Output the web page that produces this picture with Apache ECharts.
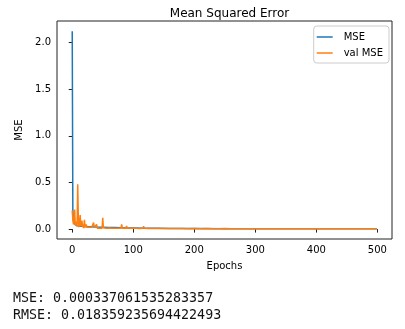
<!DOCTYPE html>
<html><head><meta charset="utf-8">
<script src="https://cdn.jsdelivr.net/npm/echarts@6/dist/echarts.min.js"></script>
<style>html,body{margin:0;padding:0;background:#fff}#c{width:405px;height:329px}</style>
</head><body><div id="c"></div>
<script>
const titleText = 'Mean Squared Error';
const xName = 'Epochs';
const yName = 'MSE';
const xTicks = [0, 100, 200, 300, 400, 500];
const yTicks = [0, 0.5, 1.0, 1.5, 2.0];
const seriesNames = ['MSE', 'val MSE'];
const footerLines = ['MSE: 0.000337061535283357', 'RMSE: 0.018359235694422493'];

const trainEpochs = [0,1,2,3,4,5,6,8,10,15,20,30,40,50,60,70,80,90,100,120,140,160,200,250,300,350,400,450,499];
const trainMSE = [2.12,0.20,0.09,0.06,0.05,0.045,0.04,0.035,0.032,0.03,0.028,0.025,0.022,0.02,0.018,0.016,0.014,0.012,0.011,0.009,0.008,0.007,0.006,0.005,0.005,0.0045,0.004,0.004,0.004];

const valEpochs = [0,1,2,3,4,5,6,7,8,9,10,11,12,13,14,15,16,17,18,19,20,21,22,23,24,25,26,27,28,29,30,31,32,33,34,35,36,37,38,39,40,41,42,43,44,45,46,47,48,49,50,51,52,53,54,55,56,57,58,59,60,
  65,70,75,80,81,82,85,88,89,90,95,100,105,110,116,117,118,125,130,140,150,160,170,180,190,200,210,220,230,240,250,260,270,280,290,300,310,320,330,340,350,360,370,380,390,400,410,420,430,440,450,460,470,480,490,499];
const valMSE = [0.20,0.10,0.05,0.12,0.21,0.04,0.02,0.08,0.03,0.48,0.12,0.02,0.06,0.15,0.03,0.01,0.09,0.02,0.05,0.01,0.10,0.02,0.01,0.05,0.02,0.01,0.03,0.01,0.02,0.01,0.015,0.01,0.02,0.01,0.03,0.07,0.02,0.01,0.02,0.015,0.05,0.01,0.02,0.01,0.015,0.01,0.012,0.01,0.02,0.01,0.12,0.015,0.01,0.012,0.01,0.011,0.01,0.012,0.009,0.01,0.011,
  0.009,0.01,0.008,0.012,0.05,0.01,0.008,0.01,0.035,0.009,0.008,0.009,0.008,0.007,0.008,0.03,0.008,0.007,0.007,0.006,0.007,0.006,0.006,0.006,0.005,0.006,0.005,0.006,0.005,0.005,0.006,0.005,0.005,0.005,0.005,0.005,0.005,0.004,0.005,0.005,0.004,0.005,0.004,0.005,0.004,0.004,0.005,0.004,0.004,0.004,0.004,0.004,0.004,0.004,0.004,0.004];

const font = 'DejaVu Sans';
const chart = echarts.init(document.getElementById('c'), null, {renderer: 'canvas'});
const pair = (xs, ys) => xs.map((x, i) => [x, ys[i]]);
chart.setOption({
  animation: false,
  backgroundColor: '#fff',
  title: {text: titleText, left: 224.5, textAlign: 'center', top: 3,
    textStyle: {fontFamily: font, fontSize: 12, fontWeight: 'normal', color: '#000'}},
  grid: {left: 57, right: 13, top: 21, bottom: 90, show: true, borderColor: '#222', borderWidth: 1, backgroundColor: 'transparent'},
  legend: {
    orient: 'vertical', right: 16, top: 26, icon: 'rect', itemWidth: 16, itemHeight: 1.5, itemGap: 6,
    padding: [6, 6, 5, 3], borderColor: '#ccc', borderWidth: 1, borderRadius: 3, backgroundColor: 'rgba(255,255,255,0.8)',
    textStyle: {fontFamily: font, fontSize: 10, color: '#000', padding: [0, 0, 0, 6]},
    data: seriesNames
  },
  xAxis: {
    type: 'value', min: -24.95, max: 523.95, name: xName, nameLocation: 'middle', nameGap: 22,
    nameTextStyle: {fontFamily: font, fontSize: 10, color: '#000'},
    axisLine: {show: false}, splitLine: {show: false},
    axisTick: {show: true, inside: false, length: 3.5, lineStyle: {color: '#222'}, customValues: xTicks},
    axisLabel: {fontFamily: font, fontSize: 10, color: '#000', margin: 6, customValues: xTicks, formatter: v => String(v)}
  },
  yAxis: {
    type: 'value', min: -0.106, max: 2.23, name: yName, nameLocation: 'middle', nameGap: 29,
    nameTextStyle: {fontFamily: font, fontSize: 10, color: '#000'},
    axisLine: {show: false}, splitLine: {show: false},
    axisTick: {show: true, inside: false, length: 3.5, lineStyle: {color: '#222'}, customValues: yTicks},
    axisLabel: {fontFamily: font, fontSize: 10, color: '#000', margin: 6, customValues: yTicks, formatter: v => v.toFixed(1)}
  },
  series: [
    {name: seriesNames[0], type: 'line', data: pair(trainEpochs, trainMSE), showSymbol: false, symbol: 'none',
      lineStyle: {color: '#1f77b4', width: 1.5}, itemStyle: {color: '#1f77b4'}, z: 2},
    {name: seriesNames[1], type: 'line', data: pair(valEpochs, valMSE), showSymbol: false, symbol: 'none',
      lineStyle: {color: '#ff7f0e', width: 1.5}, itemStyle: {color: '#ff7f0e'}, z: 3}
  ],
  graphic: footerLines.map((t, i) => ({
    type: 'text', left: 13, top: 292 + i * 17,
    style: {text: t, fontFamily: 'DejaVu Sans Mono', fontSize: 13.3, fill: '#111'}
  }))
});
</script></body></html>
